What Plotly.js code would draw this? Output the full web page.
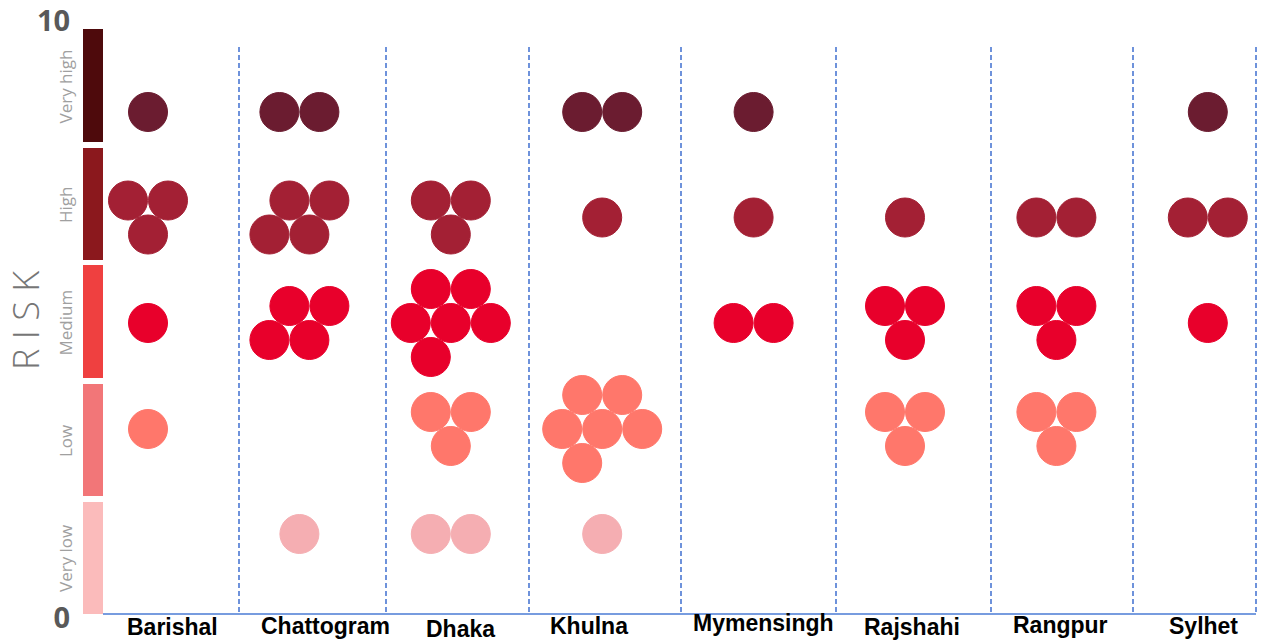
<!DOCTYPE html>
<html>
<head>
<meta charset="utf-8">
<script src="https://cdn.plot.ly/plotly-3.0.1.min.js"></script>
<style>html,body{margin:0;padding:0;background:#fff;}#chart{width:1266px;height:641px;}</style>
</head>
<body>
<div id="chart"></div>
<script>
// ---------- data ----------
const regions = ['Barishal','Chattogram','Dhaka','Khulna','Mymensingh','Rajshahi','Rangpur','Sylhet'];
const riskLevels = ['Very low','Low','Medium','High','Very high'];
const veryLow  = [0,1,2,1,0,0,0,0];
const low      = [1,0,3,6,0,3,3,0];
const medium   = [1,4,6,0,2,3,3,1];
const high     = [3,4,3,1,1,1,2,2];
const veryHigh = [1,2,0,2,1,0,0,1];
const yTickVals = [0,10];
const yTickText = ['0','10'];

// ---------- styling / layout helpers ----------
const counts = [veryLow, low, medium, high, veryHigh];
const circleColors = ['#f5aeb2','#ff776b','#e8002b','#a32034','#6b1c30'];
const bandColors   = ['#fbbbbb','#f27678','#ef4040','#8b181d','#4e0a0c'];
const W = 1266, H = 641, ML = 83, MR = 9, MT = 3, MB = 3;
const X0 = 148, XS = 151.4;            // pixel of region 0 cluster, px per region
const Y0PX = 618, Y10PX = 21;          // pixel rows of value 0 and 10
const YS = (Y0PX - Y10PX) / 10;        // px per y unit
const px2x = p => (p - X0) / XS;
const py2y = p => (Y0PX - p) / YS;
const xRange = [px2x(ML), px2x(W - MR)];
const yRange = [py2y(H - MB), py2y(MT)];
const rowPx = [534, 429, 323, 217.5, 112];   // vertical centre of each risk row (px)
const bandPx = [[502,614],[384,496],[265,378],[148,260],[29,142]];
const dividerPx = [239,386,529,681,836,991,1133,1256];
const labelPx = [172,325,460,589,763,912,1060,1203];
const labelYPx = [627,626,629,626,623,627,625,626];
// hex-packing offsets (px) per cluster size
const packs = {
  1: [[0,0]],
  2: [[-20,0],[20,0]],
  3: [[-20,-17],[20,-17],[0,17]],
  4: [[-10,-17],[30,-17],[-30,17],[10,17]],
  5: [[-20,-34],[20,-34],[-40,0],[0,0],[40,0]],
  6: [[-20,-34],[20,-34],[-40,0],[0,0],[40,0],[-20,34]]
};

const traces = riskLevels.map((lvl, k) => {
  const xs = [], ys = [], tx = [];
  counts[k].forEach((n, i) => {
    if (!n) return;
    packs[n].forEach(([dx, dy]) => {
      xs.push(i + dx / XS);
      ys.push(py2y(rowPx[k] + dy));
      tx.push(regions[i] + ': ' + lvl + ' (' + n + ')');
    });
  });
  return {
    type: 'scatter', mode: 'markers', name: lvl, x: xs, y: ys, text: tx,
    hoverinfo: 'text', cliponaxis: false,
    marker: {size: 39, color: circleColors[k], line: {width: 1, color: circleColors[k]}}
  };
});

const shapes = [];
bandPx.forEach((b, k) => {
  shapes.push({type: 'rect', xref: 'x', yref: 'y', layer: 'below',
    x0: px2x(83), x1: px2x(103), y0: py2y(b[1]), y1: py2y(b[0]),
    fillcolor: bandColors[k], line: {width: 0}});
});
dividerPx.forEach(p => {
  shapes.push({type: 'line', xref: 'x', yref: 'y', layer: 'below',
    x0: px2x(p), x1: px2x(p), y0: py2y(612), y1: py2y(44),
    line: {color: '#3f6fd0', width: 1.5, dash: '5px,3px'}});
});
shapes.push({type: 'line', xref: 'x', yref: 'y',
  x0: px2x(103), x1: px2x(1256), y0: py2y(614), y1: py2y(614),
  line: {color: '#4a7bd4', width: 1.5}});

const annotations = riskLevels.map((lvl, k) => ({
  xref: 'paper', yref: 'y', x: (65 - ML) / (W - ML - MR), xanchor: 'center', yanchor: 'middle',
  y: py2y((bandPx[k][0] + bandPx[k][1]) / 2 + 1),
  text: lvl, showarrow: false, textangle: -90,
  font: {family: 'Open Sans', size: 17, color: '#a0a0a0'}
}));
annotations.push({xref: 'paper', yref: 'y', x: (25 - ML) / (W - ML - MR), xanchor: 'center', yanchor: 'middle',
  y: py2y(321), text: 'R I S K', showarrow: false, textangle: -90,
  font: {family: 'Open Sans', size: 36, color: '#767676', weight: 300}});
regions.forEach((r, i) => {
  annotations.push({xref: 'x', yref: 'y', x: px2x(labelPx[i]), y: py2y(labelYPx[i]),
    xanchor: 'center', yanchor: 'middle', text: r, showarrow: false,
    font: {family: 'Liberation Sans, Arial', size: 23, color: '#000', weight: 700}});
});

const layout = {
  width: W, height: H, margin: {l: ML, r: MR, t: MT, b: MB},
  paper_bgcolor: '#ffffff', plot_bgcolor: '#ffffff', showlegend: false,
  xaxis: {range: xRange, showgrid: false, zeroline: false, showline: false,
    showticklabels: false, ticks: '', automargin: false, fixedrange: true},
  yaxis: {range: yRange, showgrid: false, zeroline: false, showline: false,
    tickvals: yTickVals, ticktext: yTickText, ticks: 'outside', ticklen: 6,
    tickcolor: 'rgba(0,0,0,0)', ticklabeloverflow: 'allow',
    tickfont: {family: 'Open Sans', size: 29, color: '#595959', weight: 700},
    automargin: false, fixedrange: true},
  shapes: shapes, annotations: annotations
};
Plotly.newPlot('chart', traces, layout, {displayModeBar: false, staticPlot: true});
</script>
</body>
</html>
